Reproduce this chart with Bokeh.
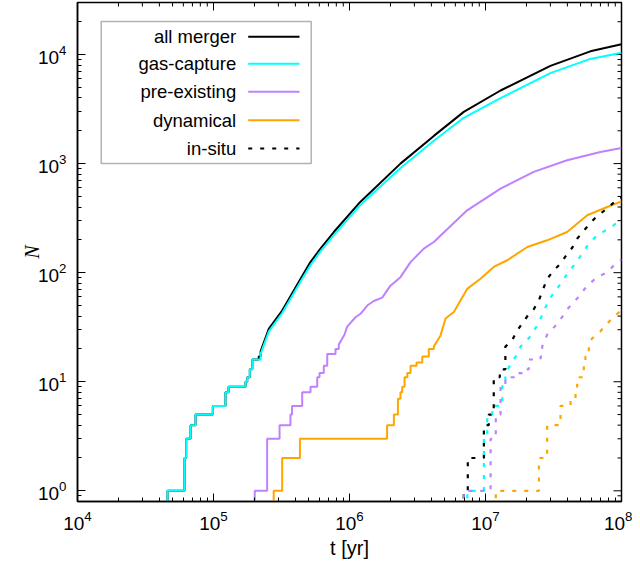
import numpy as np
from bokeh.plotting import figure
from bokeh.models import Range1d, BoxAnnotation, Label, Arrow
from bokeh.embed import file_html
from bokeh.resources import INLINE

# ---------------- data ----------------
# axis limits
X_MIN, X_MAX = 1e4, 1e8
Y_MIN, Y_MAX = 0.798, 3.0e4

# all merger (solid black): discrete step events, then continuous part
allm_step_t = [4.59e4, 6.12e4, 6.3e4, 6.78e4, 7.38e4, 9.89e4, 1.225e5, 1.29e5,
               1.72e5, 1.77e5, 1.85e5, 1.93e5, 2.15e5, 2.22e5]
allm_step_n = [1, 2, 3, 4, 5, 6, 8, 9, 10, 11, 13, 16, 17, 19]
allm_curve_t = [2.55e5, 3.2e5, 4.37e5, 5.16e5, 6.12e5, 7.67e5, 1.2e6, 2.37e6,
                4.17e6, 6.92e6, 1.29e7, 3.0e7, 5.9e7, 1.0e8]
allm_curve_n = [30.6, 45, 88, 125, 166, 236, 445, 1000, 1795, 2980, 4680, 7870,
                10700, 12400]

# gas-capture (solid cyan)
gas_step_t = [4.59e4, 6.12e4, 6.3e4, 6.78e4, 7.38e4, 9.89e4, 1.225e5, 1.29e5,
              1.72e5, 1.77e5, 1.85e5, 1.93e5, 2.22e5]
gas_step_n = [1, 2, 3, 4, 5, 6, 8, 9, 10, 11, 13, 16, 18]
gas_curve_t = [2.55e5, 3.2e5, 4.37e5, 5.16e5, 6.12e5, 7.67e5, 1.2e6, 2.37e6,
               4.17e6, 6.92e6, 1.29e7, 3.0e7, 5.9e7, 1.0e8]
gas_curve_n = [28.8, 42.7, 83, 117, 157, 221, 417, 912, 1620, 2630, 3980, 6760,
               9120, 10400]

# pre-existing (solid purple)
pre_step_t = [2.01e5, 2.48e5, 3.06e5, 3.68e5, 3.78e5, 4.49e5, 5.17e5, 5.79e5,
              6.02e5, 6.47e5, 6.86e5, 7.89e5, 8.34e5]
pre_step_n = [1, 3, 4, 5, 6, 8, 9, 11, 12, 14, 18, 20, 22]
pre_curve_t = [9.18e5, 9.61e5, 1.107e6, 1.205e6, 1.35e6, 1.51e6, 1.74e6, 2.0e6,
               2.37e6, 2.81e6, 3.52e6, 4.17e6, 7.33e6, 1.29e7, 2.26e7, 3.98e7,
               7.0e7, 1.0e8]
pre_curve_n = [27, 32, 39, 42, 50, 55, 59, 76, 91, 125, 166, 191, 373, 590, 840,
               1072, 1280, 1393]

# dynamical (solid orange)
dyn_step_t = [2.77e5, 3.2e5, 4.32e5, 1.89e6, 2.12e6, 2.27e6, 2.37e6, 2.44e6,
              2.54e6, 2.66e6, 2.81e6, 3.11e6, 3.43e6, 3.83e6, 4.17e6]
dyn_step_n = [1, 2, 3, 4, 5, 7, 8, 9, 11, 12, 14, 15, 17, 20, 21]
dyn_curve_t = [4.67e6, 5.08e6, 5.85e6, 7.33e6, 9.18e6, 1.15e7, 1.445e7, 2.03e7,
               2.84e7, 3.98e7, 5.6e7, 7.85e7, 1.0e8]
dyn_curve_n = [26.6, 38, 43.6, 71, 88, 113, 130, 172, 198, 236, 336, 400, 451]

# in-situ (dotted), all merger
ins_all_step_t = [6.92e6, 7.41e6, 9.73e6, 1.057e7, 1.15e7, 1.274e7, 1.40e7]
ins_all_step_n = [1, 2, 4, 5, 11, 13, 21]
ins_all_curve_t = [1.57e7, 1.71e7, 2.05e7, 2.26e7, 2.47e7, 2.84e7, 3.18e7,
                   3.56e7, 3.99e7, 4.34e7, 4.72e7, 5.43e7, 6.25e7, 7.0e7, 8.07e7,
                   9.29e7, 1.0e8]
ins_all_curve_n = [24, 29.5, 40.6, 46, 56, 88, 105, 121, 149, 169, 205, 253, 308,
                   348, 400, 470, 490]

# in-situ, gas-capture
ins_gas_step_t = [7.35e6, 9.73e6, 1.03e7, 1.12e7, 1.33e7, 1.40e7]
ins_gas_step_n = [1, 3, 5, 6, 10, 12]
ins_gas_curve_t = [1.71e7, 1.81e7, 2.08e7, 2.26e7, 2.47e7, 2.84e7, 3.18e7,
                   3.66e7, 3.99e7, 4.47e7, 5.14e7, 5.75e7, 6.62e7, 7.62e7,
                   8.77e7, 1.0e8]
ins_gas_curve_n = [18, 21, 25, 29, 35, 52, 66, 82, 98, 117, 149, 185, 220, 244,
                   272, 315]

# in-situ, pre-existing
ins_pre_step_t = [6.92e6, 1.09e7, 1.19e7, 1.29e7, 1.40e7, 1.71e7, 1.97e7,
                  2.08e7, 2.54e7, 2.61e7]
ins_pre_step_n = [1, 3, 5, 9, 11, 12, 13, 16, 17, 21]
ins_pre_curve_t = [2.84e7, 3.37e7, 4.10e7, 4.72e7, 5.6e7, 6.62e7, 7.85e7,
                   9.29e7, 1.0e8]
ins_pre_curve_n = [27, 34, 48, 58, 76, 91, 101, 125, 131]

# in-situ, dynamical
ins_dyn_step_t = [1.19e7, 2.47e7, 2.84e7, 3.56e7, 4.22e7, 4.59e7, 4.72e7,
                  5.28e7, 5.43e7, 5.75e7]
ins_dyn_step_n = [1, 2, 4, 6, 7, 9, 11, 14, 17, 22]
ins_dyn_curve_t = [6.08e7, 7.0e7, 7.62e7, 8.55e7, 9.29e7, 1.0e8]
ins_dyn_curve_n = [25, 29, 33, 38, 42, 45]

legend_labels = ["all merger", "gas-capture", "pre-existing", "dynamical", "in-situ"]

# ---------------- styles ----------------
BLACK, CYAN, PURPLE, ORANGE = "#000000", "#00ffff", "#c080ff", "#ffa500"
DOT = "4 8"
SANS = "Liberation Sans"
FRAME_W, FRAME_H = 544, 499
MAJOR_LEN, MINOR_LEN = 8, 4

p = figure(frame_width=FRAME_W, frame_height=FRAME_H,
           x_axis_type="log", y_axis_type="log",
           x_range=Range1d(X_MIN, X_MAX), y_range=Range1d(Y_MIN, Y_MAX),
           output_backend="svg", toolbar_location=None,
           min_border_left=77, min_border_right=11, min_border_top=2,
           min_border_bottom=58)
p.xgrid.visible = False
p.ygrid.visible = False
p.outline_line_color = "black"
p.outline_line_width = 1.5
p.background_fill_color = "white"
p.border_fill_color = "white"

for ax in (p.xaxis[0], p.yaxis[0]):
    ax.major_tick_in = MAJOR_LEN
    ax.major_tick_out = 0
    ax.minor_tick_in = MINOR_LEN
    ax.minor_tick_out = 0
    ax.axis_line_color = "black"
    ax.axis_line_width = 1.5
    ax.major_tick_line_color = "black"
    ax.minor_tick_line_color = "black"
    ax.major_label_text_font = SANS
    ax.major_label_text_font_size = "19px"
    ax.major_label_text_color = "black"
p.xaxis.major_label_standoff = 9
p.yaxis.major_label_standoff = 11

p.xaxis.axis_label = "t [yr]"
p.xaxis.axis_label_text_font = SANS
p.xaxis.axis_label_text_font_style = "normal"
p.xaxis.axis_label_text_font_size = "20px"
p.xaxis.axis_label_text_color = "black"
p.xaxis.axis_label_standoff = 4
p.yaxis.axis_label = "N"
p.yaxis.axis_label_text_font = "Liberation Serif"
p.yaxis.axis_label_text_font_style = "italic"
p.yaxis.axis_label_text_font_size = "20px"
p.yaxis.axis_label_text_color = "black"
p.yaxis.axis_label_standoff = -8


# mirror ticks on the top and right edges (inward), derived from the ranges
def log_ticks(lo, hi):
    k0, k1 = int(np.floor(np.log10(lo))), int(np.ceil(np.log10(hi)))
    major = [10.0 ** k for k in range(k0, k1 + 1) if lo <= 10.0 ** k <= hi]
    minor = [m * 10.0 ** k for k in range(k0, k1 + 1) for m in range(2, 10)
             if lo <= m * 10.0 ** k <= hi]
    return major, minor


ppd_x = FRAME_W / np.log10(X_MAX / X_MIN)
ppd_y = FRAME_H / np.log10(Y_MAX / Y_MIN)
xmaj, xmin_ = log_ticks(X_MIN, X_MAX)
ymaj, ymin_ = log_ticks(Y_MIN, Y_MAX)
tx = xmaj + xmin_
tlen = [MAJOR_LEN] * len(xmaj) + [MINOR_LEN] * len(xmin_)
p.segment(x0=tx, y0=[Y_MAX] * len(tx), x1=tx,
          y1=[Y_MAX / 10 ** (L / ppd_y) for L in tlen],
          line_color="black", line_width=1)
ty = ymaj + ymin_
tlen = [MAJOR_LEN] * len(ymaj) + [MINOR_LEN] * len(ymin_)
p.segment(x0=[X_MAX] * len(ty), y0=ty,
          x1=[X_MAX / 10 ** (L / ppd_x) for L in tlen], y1=ty,
          line_color="black", line_width=1)

FLOOR = Y_MIN * 0.5  # N = 0 drawn below the visible range


def path(step_t, step_n, curve_t, curve_n):
    st = np.asarray(step_t, float)
    sn = np.asarray(step_n, float)
    xs = np.r_[np.repeat(st, 2), curve_t]
    ys = np.r_[FLOOR, np.repeat(sn, 2)[:-1], curve_n]
    return xs, ys


series = [
    (allm_step_t, allm_step_n, allm_curve_t, allm_curve_n, BLACK, None),
    (gas_step_t, gas_step_n, gas_curve_t, gas_curve_n, CYAN, None),
    (pre_step_t, pre_step_n, pre_curve_t, pre_curve_n, PURPLE, None),
    (dyn_step_t, dyn_step_n, dyn_curve_t, dyn_curve_n, ORANGE, None),
    (ins_all_step_t, ins_all_step_n, ins_all_curve_t, ins_all_curve_n, BLACK, DOT),
    (ins_gas_step_t, ins_gas_step_n, ins_gas_curve_t, ins_gas_curve_n, CYAN, DOT),
    (ins_pre_step_t, ins_pre_step_n, ins_pre_curve_t, ins_pre_curve_n, PURPLE, DOT),
    (ins_dyn_step_t, ins_dyn_step_n, ins_dyn_curve_t, ins_dyn_curve_n, ORANGE, DOT),
]
for st, sn, ct, cn, col, dash in series:
    xs, ys = path(st, sn, ct, cn)
    if dash:
        p.line(xs, ys, line_color=col, line_width=2.2, line_dash=dash)
    else:
        p.line(xs, ys, line_color=col, line_width=2)

# ---------------- legend (gnuplot style: label then sample) ----------------
box = BoxAnnotation(left=23.7, right=233.7, top=FRAME_H - 19, bottom=FRAME_H - 161,
                    left_units="screen", right_units="screen",
                    top_units="screen", bottom_units="screen",
                    fill_color="white", fill_alpha=1.0,
                    line_color="black", line_width=1.5)
p.add_layout(box)
row_from_top = [34.3, 61.3, 89.3, 117.7, 146]
leg_colors = [BLACK, CYAN, PURPLE, ORANGE, BLACK]
leg_dash = ["solid", "solid", "solid", "solid", DOT]
for lab, ry, col, dsh in zip(legend_labels, row_from_top, leg_colors, leg_dash):
    y = FRAME_H - ry
    p.add_layout(Label(x=158.7, y=y, x_units="screen", y_units="screen", text=lab,
                       text_align="right", text_baseline="middle",
                       text_font=SANS, text_font_size="18.5px", text_color="black"))
    p.add_layout(Arrow(start=None, end=None, x_start=170.7, y_start=y,
                       x_end=222, y_end=y, start_units="screen", end_units="screen",
                       line_color=col, line_width=2 if dsh == "solid" else 2.2,
                       line_dash=dsh))

open("out.html", "w").write(file_html(p, INLINE))
